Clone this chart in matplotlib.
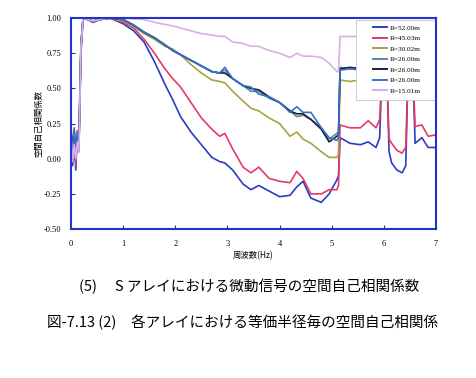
"""
plot.py
--------
S アレイにおける微動信号の空間自己相関係数 (図-7.13 (2) の (5))

周波数ごとの空間自己相関係数を等価半径別のラインで描画します。
出力: out.png
"""

import matplotlib
matplotlib.use("Agg")  # 헤드리스 환경
import matplotlib.pyplot as plt
from matplotlib.patches import Rectangle

plt.rcParams["font.family"] = ["Noto Sans CJK JP", "DejaVu Sans"]
plt.rcParams["axes.unicode_minus"] = False

SERIF = ["Liberation Serif", "DejaVu Serif"]

# ──────────────────────────────────────────────
# データ
# ──────────────────────────────────────────────

freq = [
    0.00, 0.03, 0.06, 0.09, 0.12, 0.15, 0.19, 0.23, 0.32, 0.42, 0.55, 0.75,
    1.00, 1.20, 1.40, 1.60, 1.80, 1.95, 2.10, 2.30, 2.50, 2.70, 2.85, 2.95,
    3.10, 3.30, 3.45, 3.60, 3.80, 4.00, 4.20, 4.33, 4.45, 4.60, 4.80, 4.95,
    5.10, 5.13, 5.16, 5.35, 5.55, 5.70, 5.85, 5.92, 5.97, 6.05, 6.10, 6.15,
    6.25, 6.35, 6.42, 6.47, 6.55, 6.60, 6.73, 6.85, 7.00,
]

r52 = [
    0.12, -0.05, 0.20, -0.08, 0.18, 0.05, 0.75, 1.00, 0.99, 0.97, 0.99, 1.00,
    0.96, 0.91, 0.83, 0.69, 0.53, 0.42, 0.30, 0.19, 0.10, 0.01, -0.02, -0.03,
    -0.08, -0.18, -0.22, -0.19, -0.23, -0.27, -0.26, -0.20, -0.16, -0.28, -0.31, -0.25,
    -0.15, -0.12, 0.15, 0.11, 0.10, 0.12, 0.08, 0.15, 0.70, 0.70, 0.05, -0.03,
    -0.08, -0.10, -0.05, 0.70, 0.70, 0.11, 0.15, 0.08, 0.08,
]

r45 = [
    0.15, 0.00, 0.22, -0.05, 0.20, 0.08, 0.78, 1.00, 0.99, 0.97, 0.99, 1.00,
    0.97, 0.93, 0.85, 0.75, 0.64, 0.57, 0.51, 0.40, 0.29, 0.21, 0.16, 0.18,
    0.07, -0.06, -0.10, -0.06, -0.14, -0.16, -0.17, -0.09, -0.14, -0.25, -0.25, -0.22,
    -0.22, -0.19, 0.24, 0.22, 0.22, 0.27, 0.22, 0.28, 0.70, 0.70, 0.14, 0.11,
    0.06, 0.04, 0.08, 0.70, 0.70, 0.23, 0.24, 0.16, 0.17,
]

r30 = [
    0.18, 0.05, 0.20, 0.00, 0.16, 0.10, 0.80, 1.00, 0.99, 0.98, 0.99, 1.00,
    0.98, 0.94, 0.89, 0.85, 0.80, 0.78, 0.74, 0.67, 0.61, 0.56, 0.55, 0.54,
    0.48, 0.41, 0.36, 0.34, 0.29, 0.25, 0.16, 0.19, 0.14, 0.11, 0.05, 0.01,
    0.01, 0.03, 0.56, 0.55, 0.56, 0.55, 0.55, 0.55, 0.55, 0.55, 0.55, 0.55,
    0.55, 0.55, 0.55, 0.55, 0.55, 0.55, 0.55, 0.55, 0.55,
]

r26_a = [
    0.22, 0.06, 0.16, 0.03, 0.17, 0.12, 0.82, 1.00, 0.99, 0.98, 0.99, 1.00,
    0.99, 0.95, 0.90, 0.86, 0.81, 0.77, 0.74, 0.70, 0.66, 0.62, 0.61, 0.63,
    0.57, 0.52, 0.48, 0.48, 0.43, 0.40, 0.34, 0.30, 0.31, 0.28, 0.22, 0.14,
    0.18, 0.19, 0.65, 0.64, 0.65, 0.65, 0.64, 0.64, 0.64, 0.64, 0.64, 0.64,
    0.64, 0.64, 0.64, 0.64, 0.64, 0.64, 0.64, 0.64, 0.64,
]

r26_b = [
    0.20, 0.08, 0.18, 0.02, 0.15, 0.12, 0.82, 1.00, 0.99, 0.98, 0.99, 1.00,
    0.99, 0.95, 0.90, 0.86, 0.81, 0.77, 0.74, 0.70, 0.66, 0.62, 0.61, 0.61,
    0.57, 0.52, 0.50, 0.49, 0.44, 0.40, 0.34, 0.32, 0.32, 0.28, 0.21, 0.12,
    0.16, 0.17, 0.64, 0.65, 0.64, 0.65, 0.64, 0.64, 0.64, 0.64, 0.64, 0.64,
    0.64, 0.64, 0.64, 0.64, 0.64, 0.64, 0.64, 0.64, 0.64,
]

r26_c = [
    0.18, 0.02, 0.21, -0.02, 0.19, 0.10, 0.80, 1.00, 0.99, 0.98, 0.99, 1.00,
    0.99, 0.95, 0.90, 0.86, 0.81, 0.77, 0.74, 0.70, 0.66, 0.62, 0.61, 0.65,
    0.57, 0.52, 0.51, 0.46, 0.44, 0.40, 0.33, 0.37, 0.33, 0.33, 0.22, 0.15,
    0.13, 0.15, 0.63, 0.64, 0.63, 0.64, 0.63, 0.63, 0.63, 0.63, 0.63, 0.63,
    0.63, 0.63, 0.63, 0.63, 0.63, 0.63, 0.63, 0.63, 0.63,
]

r15 = [
    0.15, -0.02, 0.10, 0.00, 0.12, 0.05, 0.80, 1.00, 0.99, 0.98, 0.99, 1.00,
    1.00, 0.995, 0.99, 0.97, 0.955, 0.945, 0.93, 0.91, 0.89, 0.88, 0.87, 0.87,
    0.83, 0.82, 0.80, 0.80, 0.77, 0.75, 0.72, 0.75, 0.73, 0.73, 0.72, 0.68,
    0.62, 0.62, 0.87, 0.87, 0.87, 0.87, 0.87, 0.87, 0.87, 0.87, 0.87, 0.87,
    0.87, 0.87, 0.87, 0.87, 0.87, 0.87, 0.87, 0.87, 0.87,
]

labels = ["R=52.00m", "R=45.03m", "R=30.02m", "R=26.00m", "R=26.00m", "R=26.00m", "R=15.01m"]
colors = ["#2a3cc4", "#e63a63", "#a8a242", "#4f8f98", "#1b1f38", "#3a6fd2", "#d9aee6"]
series = [r52, r45, r30, r26_a, r26_b, r26_c, r15]

yticks = [1.00, 0.75, 0.50, 0.25, 0.00, -0.25, -0.50]
xticks = [0, 1, 2, 3, 4, 5, 6, 7]

SPINE_COLOR = "#2233cc"


# ──────────────────────────────────────────────
# 描画
# ──────────────────────────────────────────────

fig = plt.figure(figsize=(4.77, 3.78), dpi=100, facecolor="white")
ax = fig.add_axes([0.149, 0.394, 0.765, 0.558])

for ys, c, lbl in zip(series, colors, labels):
    ax.plot(freq, ys, color=c, linewidth=1.2, label=lbl)

ax.set_xlim(0, 7)
ax.set_ylim(-0.5, 1.0)
ax.set_xticks(xticks)
ax.set_xticklabels([str(t) for t in xticks], family=SERIF, fontsize=6)
ax.set_yticks(yticks)
ax.set_yticklabels([f"{t:.2f}" for t in yticks], family=SERIF, fontsize=6)
ax.tick_params(direction="in", length=3, width=0.8, color=SPINE_COLOR, pad=7)
ax.tick_params(axis="x", pad=8)

for spine in ax.spines.values():
    spine.set_color(SPINE_COLOR)
    spine.set_linewidth(1.5)
    spine.set_zorder(5)

ax.set_xlabel("周波数(Hz)", fontsize=6, labelpad=2)
ax.set_ylabel("空間自己相関係数", fontsize=6, labelpad=0)

# 凡例: 白い枠を別に描き、その中に枠なしの凡例を置く
ax.add_patch(Rectangle((0.781, 0.611), 0.219, 0.379, transform=ax.transAxes,
                       facecolor="white", edgecolor="#c8c8c8", linewidth=0.6, zorder=3))
leg = ax.legend(
    loc="upper left", bbox_to_anchor=(0.815, 0.99), borderaxespad=0.0,
    prop={"family": SERIF, "size": 5.2},
    handlelength=2.0, handletextpad=0.3, labelspacing=0.62,
    borderpad=0.6, frameon=False,
)
leg.set_zorder(4)
for line in leg.get_lines():
    line.set_linewidth(1.4)

# キャプション
fig.text(0.522, 1 - 286 / 378, "(5)　 S アレイにおける微動信号の空間自己相関係数",
         ha="center", va="center", fontsize=10.5)
fig.text(0.508, 1 - 322 / 378, "図-7.13 (2)　各アレイにおける等価半径毎の空間自己相関係",
         ha="center", va="center", fontsize=10.5)

fig.savefig("out.png", dpi=100, facecolor="white")
plt.close(fig)
